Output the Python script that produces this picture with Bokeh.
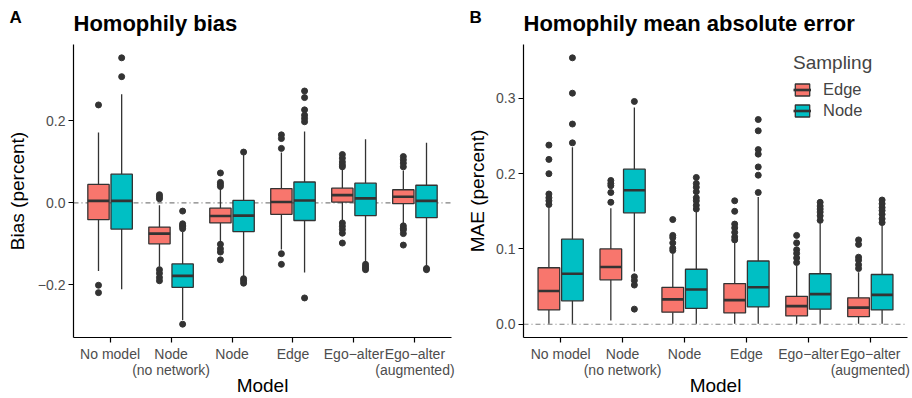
from bokeh.plotting import figure
from bokeh.models import (ColumnDataSource, FixedTicker, Legend, LegendItem,
                          Span, Range1d, Title)
from bokeh.layouts import row
from bokeh.embed import file_html
from bokeh.resources import INLINE

# ---------------- data ----------------
models = ["No model", "Node\n(no network)", "Node", "Edge",
          "Ego\u2212alter", "Ego\u2212alter\n(augmented)"]
samplings = ["Edge", "Node"]

# Panel A: homophily bias (box stats per model)
bias_edge_low = [-0.166, -0.156, -0.096, -0.114, -0.043, -0.049]
bias_edge_q1 = [-0.041, -0.100, -0.049, -0.028, 0.002, -0.002]
bias_edge_med = [0.005, -0.075, -0.032, 0.002, 0.019, 0.015]
bias_edge_q3 = [0.045, -0.059, -0.013, 0.035, 0.036, 0.032]
bias_edge_high = [0.172, -0.006, 0.034, 0.123, 0.083, 0.079]
bias_edge_out = [[0.239, -0.201, -0.219],
                 [0.020, 0.015, 0.010, -0.163, -0.172, -0.182, -0.190],
                 [0.073, 0.050, 0.045, 0.040, -0.101, -0.112, -0.120, -0.139],
                 [0.166, 0.157, 0.133, -0.124, -0.150],
                 [0.118, 0.109, 0.100, 0.093, 0.088, -0.049, -0.057, -0.065, -0.074, -0.098],
                 [0.113, 0.105, 0.097, 0.088, -0.056, -0.062, -0.066, -0.075, -0.103]]

bias_node_low = [-0.211, -0.286, -0.181, -0.170, -0.147, -0.156]
bias_node_q1 = [-0.064, -0.206, -0.070, -0.043, -0.031, -0.036]
bias_node_med = [0.005, -0.178, -0.031, 0.006, 0.011, 0.005]
bias_node_q3 = [0.070, -0.149, 0.006, 0.051, 0.048, 0.043]
bias_node_high = [0.265, -0.071, 0.117, 0.174, 0.155, 0.147]
bias_node_out = [[0.354, 0.308],
                 [-0.020, -0.051, -0.055, -0.058, -0.063, -0.296],
                 [0.124, -0.185, -0.190, -0.196],
                 [0.273, 0.257, 0.227, 0.214, 0.206, 0.198, -0.232],
                 [-0.150, -0.155, -0.159, -0.163],
                 [-0.160, -0.163]]

# Panel B: homophily mean absolute error
mae_edge_low = [0.0005, 0.005, 0.0005, 0.0005, 0.0005, 0.0005]
mae_edge_q1 = [0.019, 0.059, 0.016, 0.015, 0.011, 0.010]
mae_edge_med = [0.044, 0.076, 0.033, 0.032, 0.024, 0.022]
mae_edge_q3 = [0.075, 0.100, 0.049, 0.054, 0.037, 0.035]
mae_edge_high = [0.155, 0.154, 0.094, 0.108, 0.078, 0.069]
mae_edge_out = [[0.238, 0.219, 0.200, 0.173, 0.168, 0.164, 0.159],
                [0.191, 0.187, 0.184, 0.175, 0.162],
                [0.139, 0.118, 0.115, 0.108, 0.101, 0.098],
                [0.164, 0.150, 0.133, 0.128, 0.122, 0.116, 0.112],
                [0.118, 0.108, 0.099, 0.094, 0.088, 0.082],
                [0.112, 0.106, 0.089, 0.085, 0.079, 0.074]]

mae_node_low = [0.0005, 0.070, 0.0005, 0.0005, 0.0005, 0.0005]
mae_node_q1 = [0.031, 0.148, 0.021, 0.023, 0.020, 0.019]
mae_node_med = [0.067, 0.178, 0.046, 0.049, 0.040, 0.039]
mae_node_q3 = [0.113, 0.206, 0.073, 0.084, 0.067, 0.066]
mae_node_high = [0.235, 0.288, 0.149, 0.169, 0.134, 0.131]
mae_node_out = [[0.354, 0.307, 0.266, 0.241],
                [0.296, 0.063, 0.058, 0.052, 0.020],
                [0.195, 0.187, 0.182, 0.176, 0.168, 0.164, 0.158, 0.153],
                [0.272, 0.257, 0.232, 0.226, 0.209, 0.198, 0.175],
                [0.162, 0.157, 0.153, 0.149, 0.144, 0.138],
                [0.165, 0.160, 0.155, 0.151, 0.146, 0.140, 0.135]]

bias_ticks = [-0.2, 0.0, 0.2]
bias_tick_labels = ["\u22120.2", "0.0", "0.2"]
mae_ticks = [0.0, 0.1, 0.2, 0.3]
mae_tick_labels = ["0.0", "0.1", "0.2", "0.3"]

# ---------------- style ----------------
FONT = "Liberation Sans"
COLORS = {"Edge": "#F8766D", "Node": "#00BFC4"}
DARK = "#333333"
OFFSET = {"Edge": -0.19, "Node": 0.19}
BOX_W = 0.35
HEIGHT = 398


def add_boxes(p, stats, sampling):
    low, q1, med, q3, high, outs = stats
    xs = [i + 1 + OFFSET[sampling] for i in range(len(models))]
    src = ColumnDataSource(dict(x=xs, low=low, q1=q1, med=med, q3=q3, high=high,
                                left=[x - BOX_W / 2 for x in xs],
                                right=[x + BOX_W / 2 for x in xs]))
    p.segment(x0="x", y0="q3", x1="x", y1="high", source=src, line_color=DARK, line_width=1.3)
    p.segment(x0="x", y0="q1", x1="x", y1="low", source=src, line_color=DARK, line_width=1.3)
    box = p.vbar(x="x", width=BOX_W, top="q3", bottom="q1", source=src,
                 fill_color=COLORS[sampling], line_color=DARK, line_width=1.3)
    med_r = p.segment(x0="left", y0="med", x1="right", y1="med", source=src,
                      line_color=DARK, line_width=2.6)
    ox = [xs[i] for i, o in enumerate(outs) for _ in o]
    oy = [v for o in outs for v in o]
    p.scatter(ox, oy, size=6, fill_color=DARK, line_color=DARK)
    return box, med_r


def make_panel(width, bl, br, letter, letter_offset, title, ylabel, ylabel_standoff,
               edge, node, ticks, tick_labels):
    vals = [0.0]
    for s in (edge, node):
        vals += list(s[0]) + list(s[4]) + [v for o in s[5] for v in o]
    lo, hi = min(vals), max(vals)
    pad = 0.05 * (hi - lo)
    p = figure(width=width, height=HEIGHT, x_range=Range1d(0.4, 6.6),
               y_range=Range1d(lo - pad, hi + pad), output_backend="svg",
               toolbar_location=None, title=None,
               min_border_left=bl, min_border_right=br,
               min_border_top=30, min_border_bottom=61)
    p.outline_line_color = None
    p.grid.visible = False
    p.background_fill_color = "white"
    p.border_fill_color = "white"

    zero = Span(location=0, dimension="width", line_color="#808080",
                line_dash="5 3 1 3", line_width=1.1, level="underlay")
    p.add_layout(zero)

    r_edge = add_boxes(p, edge, "Edge")
    r_node = add_boxes(p, node, "Node")

    for ax in (p.xaxis[0], p.yaxis[0]):
        ax.axis_line_color = "black"
        ax.axis_line_width = 1.2
        ax.major_tick_line_color = "black"
        ax.major_tick_line_width = 1.2
        ax.major_tick_out = 5
        ax.major_tick_in = 0
        ax.minor_tick_line_color = None
        ax.major_label_text_font = FONT
        ax.major_label_text_font_size = "14px"
        ax.major_label_text_color = "#4D4D4D"
        ax.major_label_standoff = 3
        ax.axis_label_text_font = FONT
        ax.axis_label_text_font_size = "19px"
        ax.axis_label_text_font_style = "normal"
        ax.axis_label_text_color = "black"
    p.xaxis.ticker = FixedTicker(ticks=list(range(1, len(models) + 1)))
    p.xaxis.major_label_overrides = {i + 1: m for i, m in enumerate(models)}
    p.xaxis.major_label_text_line_height = 1.0
    p.yaxis.ticker = FixedTicker(ticks=ticks)
    p.yaxis.major_label_overrides = {t: l for t, l in zip(ticks, tick_labels)}
    p.yaxis.axis_label = ylabel
    p.yaxis.axis_label_standoff = ylabel_standoff

    # x-axis title as a Title below the axis (tightly placed)
    p.add_layout(Title(text="Model", align="center", vertical_align="top",
                       standoff=-12, text_font=FONT, text_font_size="19px",
                       text_font_style="normal", text_color="black"), "below")

    # panel title and panel letter
    p.add_layout(Title(text=title, align="left", offset=0, vertical_align="bottom",
                       standoff=17, text_font=FONT, text_font_size="22px",
                       text_font_style="bold", text_color="black"), "above")
    p.add_layout(Title(text=letter, align="left", offset=letter_offset,
                       vertical_align="bottom", standoff=-53, text_font=FONT,
                       text_font_size="17px", text_font_style="bold",
                       text_color="black"), "above")
    return p, r_edge, r_node


bias_edge = (bias_edge_low, bias_edge_q1, bias_edge_med, bias_edge_q3, bias_edge_high, bias_edge_out)
bias_node = (bias_node_low, bias_node_q1, bias_node_med, bias_node_q3, bias_node_high, bias_node_out)
mae_edge = (mae_edge_low, mae_edge_q1, mae_edge_med, mae_edge_q3, mae_edge_high, mae_edge_out)
mae_node = (mae_node_low, mae_node_q1, mae_node_med, mae_node_q3, mae_node_high, mae_node_out)

pA, _, _ = make_panel(458, 73, 7, "A", -64, "Homophily bias", "Bias (percent)", 7,
                      bias_edge, bias_node, bias_ticks, bias_tick_labels)
pB, rB_edge, rB_node = make_panel(454, 65, 5, "B", -54, "Homophily mean absolute error",
                                  "MAE (percent)", 5,
                                  mae_edge, mae_node, mae_ticks, mae_tick_labels)

legend = Legend(items=[LegendItem(label="Edge", renderers=list(rB_edge)),
                       LegendItem(label="Node", renderers=list(rB_node))],
                location=(270, 217), title="Sampling")
legend.title_text_font = FONT
legend.title_text_font_size = "19px"
legend.title_text_font_style = "normal"
legend.title_standoff = 6
legend.label_text_font = FONT
legend.label_text_font_size = "16.5px"
legend.label_standoff = 12
legend.label_height = 19
legend.glyph_width = 18
legend.glyph_height = 15
legend.spacing = 2
legend.padding = 0
legend.margin = 0
legend.border_line_color = None
legend.background_fill_alpha = 0
pB.add_layout(legend)

layout = row(pA, pB)
open("out.html", "w").write(file_html(layout, INLINE))
